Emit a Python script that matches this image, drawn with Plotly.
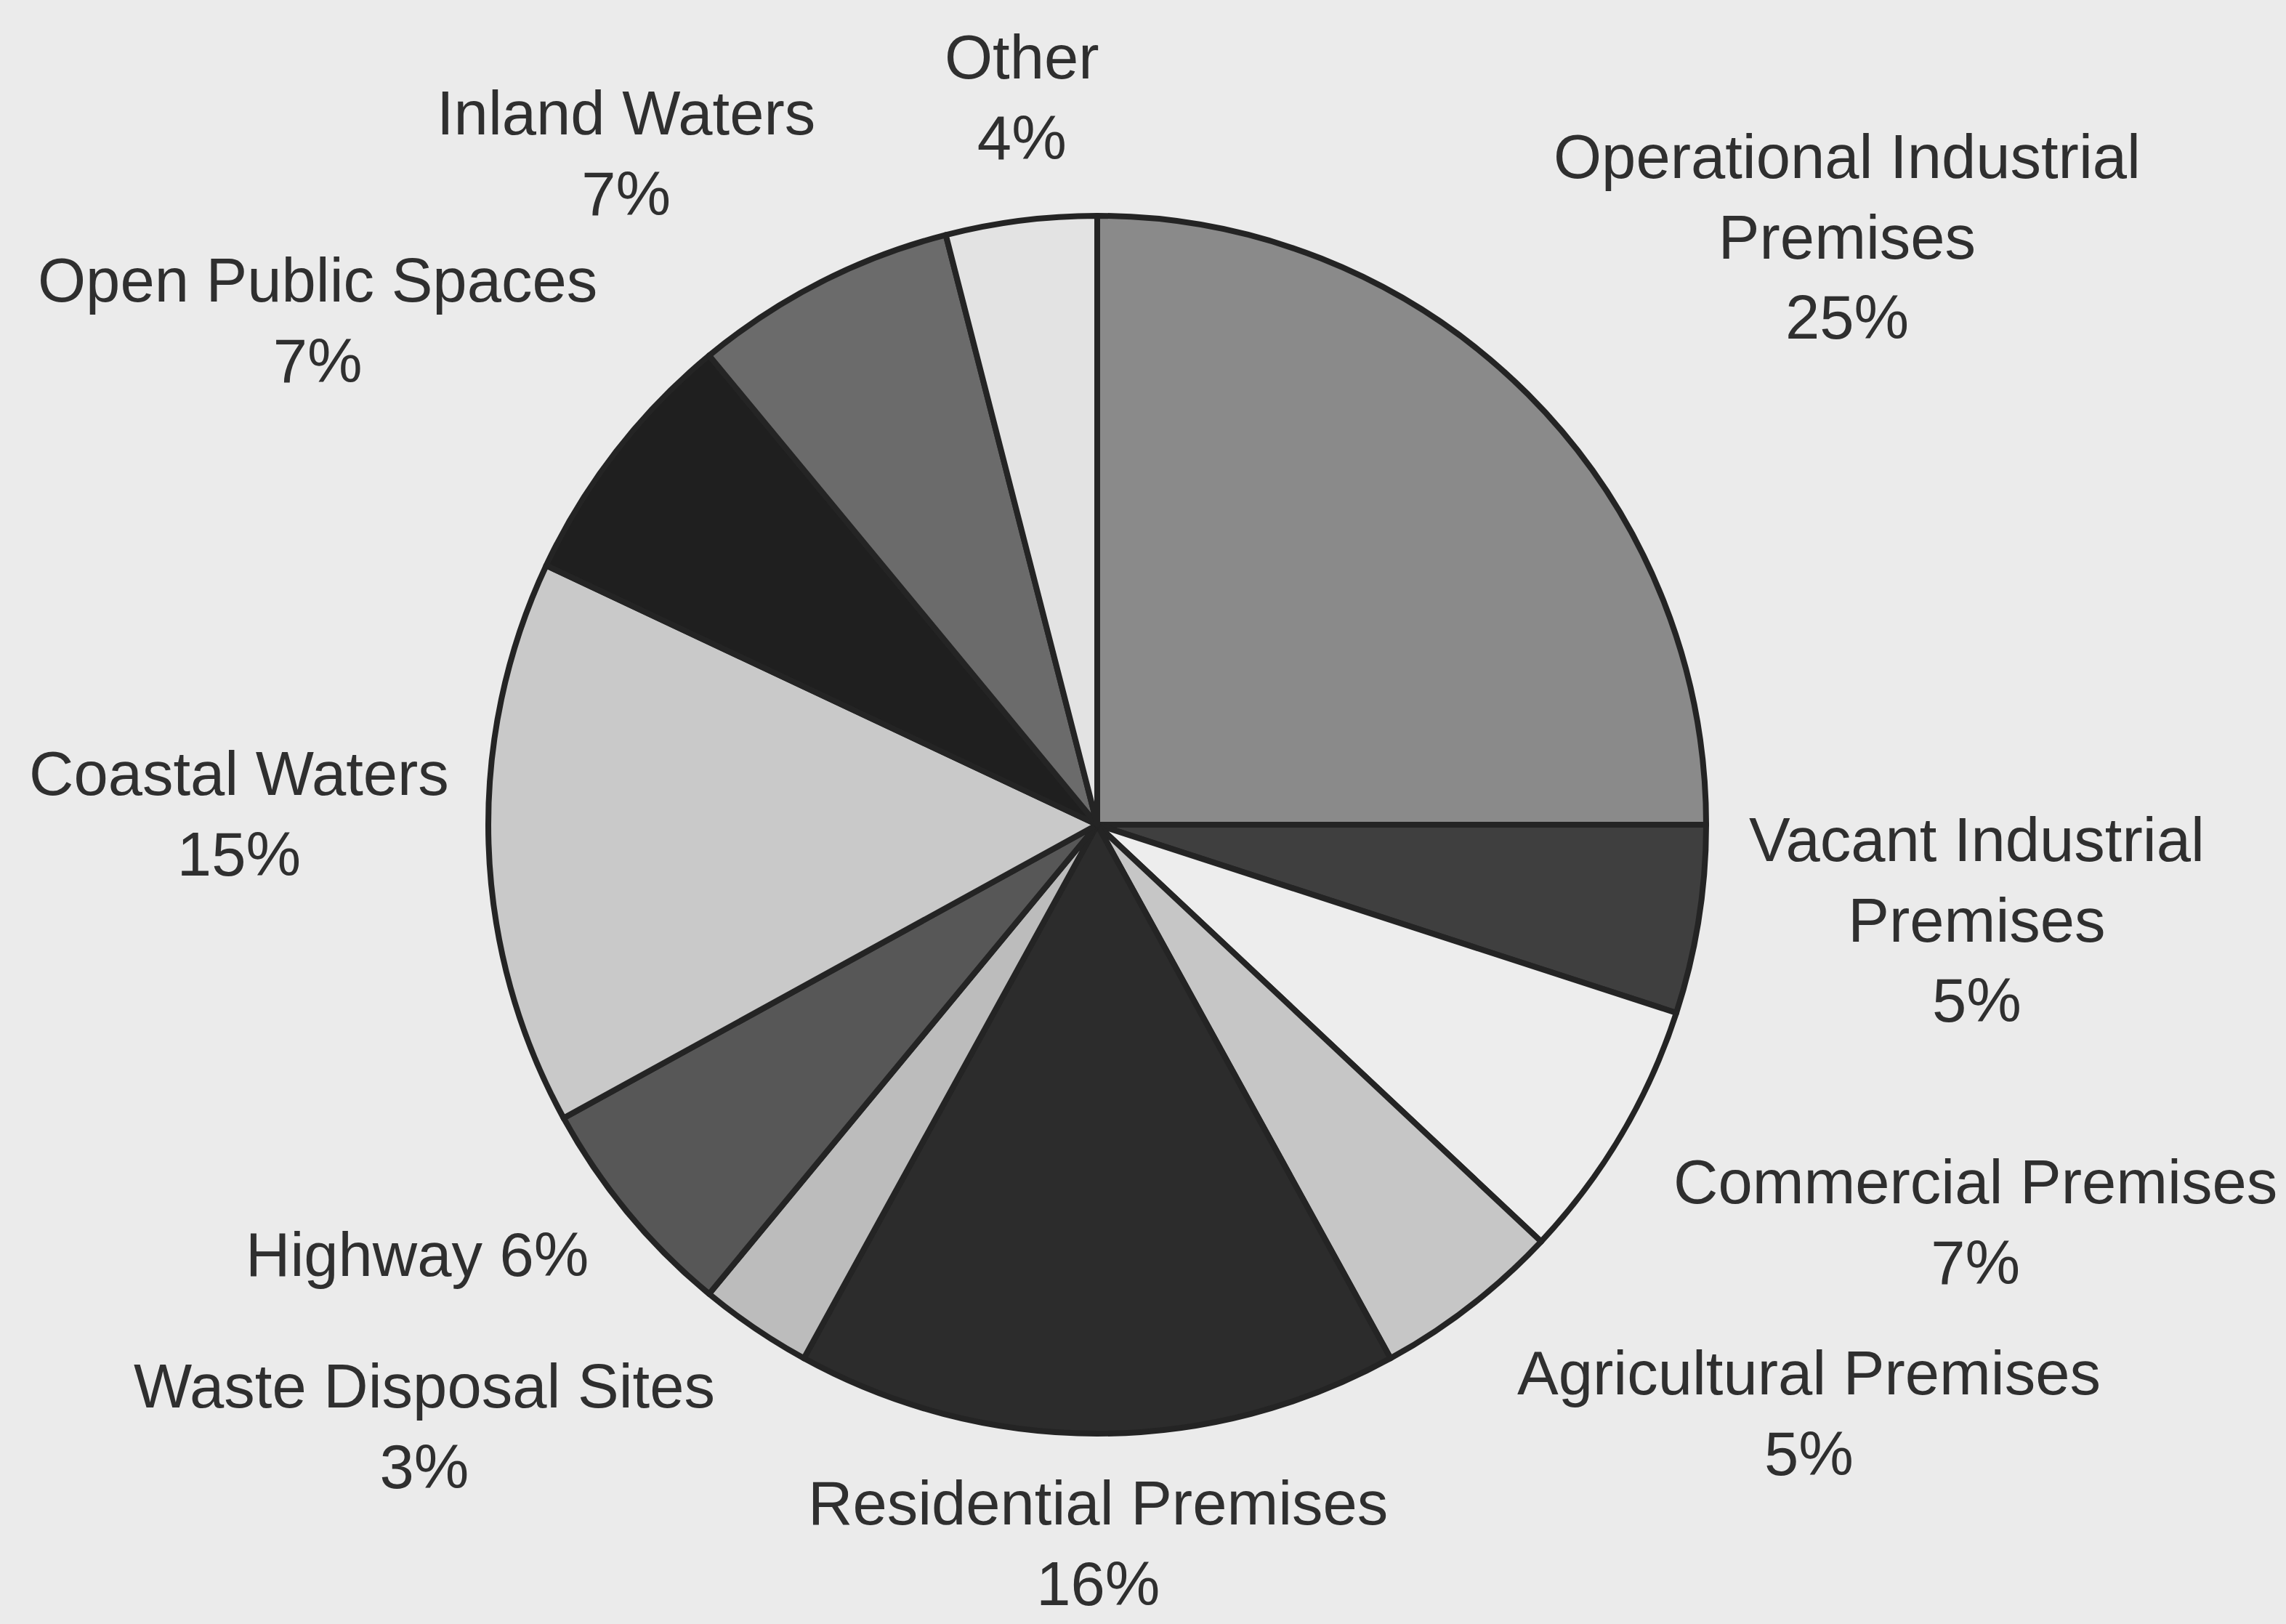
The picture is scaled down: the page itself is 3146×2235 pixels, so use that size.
import plotly.graph_objects as go

# Land-use categories, clockwise from 12 o'clock
categories = [
    "Operational Industrial Premises",
    "Vacant Industrial Premises",
    "Commercial Premises",
    "Agricultural Premises",
    "Residential Premises",
    "Waste Disposal Sites",
    "Highway",
    "Coastal Waters",
    "Open Public Spaces",
    "Inland Waters",
    "Other",
]
shares = [25, 5, 7, 5, 16, 3, 6, 15, 7, 7, 4]

# Label text as printed (line breaks inside the category name)
label_names = [
    "Operational Industrial<br>Premises",
    "Vacant Industrial<br>Premises",
    "Commercial Premises",
    "Agricultural Premises",
    "Residential Premises",
    "Waste Disposal Sites",
    "Highway",
    "Coastal Waters",
    "Open Public Spaces",
    "Inland Waters",
    "Other",
]

# Greyscale fills for each slice
fills = [
    "#8a8a8a", "#3f3f3f", "#ededed", "#c6c6c6", "#2c2c2c", "#bcbcbc",
    "#575757", "#c9c9c9", "#1f1f1f", "#6b6b6b", "#e3e3e3",
]

W, H = 3146, 2235
BG = "#ebebeb"
INK = "#2f2f2f"

# Pie placement in pixels (centre and radius)
cx, cy, r = 1510, 1135, 838

fig = go.Figure(
    go.Pie(
        labels=categories,
        values=shares,
        sort=False,
        direction="clockwise",
        rotation=0,
        textinfo="none",
        hoverinfo="label+percent",
        showlegend=False,
        marker=dict(colors=fills, line=dict(color="#242424", width=8)),
        domain=dict(
            x=[(cx - r) / W, (cx + r) / W],
            y=[1 - (cy + r) / H, 1 - (cy - r) / H],
        ),
    )
)

# Text block centres (pixels) for each category label
label_pos = {
    "Operational Industrial Premises": (2542, 326),
    "Vacant Industrial Premises": (2720, 1266),
    "Commercial Premises": (2718, 1682),
    "Agricultural Premises": (2489, 1945),
    "Residential Premises": (1511, 2124),
    "Waste Disposal Sites": (584, 1963),
    "Highway": (574, 1726),
    "Coastal Waters": (329, 1120),
    "Open Public Spaces": (437, 441),
    "Inland Waters": (861, 211),
    "Other": (1406, 134),
}

for cat, name, val in zip(categories, label_names, shares):
    sep = " " if cat == "Highway" else "<br>"
    px, py = label_pos[cat]
    fig.add_annotation(
        x=px / W,
        y=1 - py / H,
        xref="paper",
        yref="paper",
        xanchor="center",
        yanchor="middle",
        showarrow=False,
        align="center",
        text=f"{name}{sep}{val}%",
        font=dict(family="Liberation Sans, Arial, sans-serif", size=85, color=INK),
    )

fig.update_layout(
    width=W,
    height=H,
    margin=dict(l=0, r=0, t=0, b=0),
    paper_bgcolor=BG,
    plot_bgcolor=BG,
)

fig.write_html("out.html")
